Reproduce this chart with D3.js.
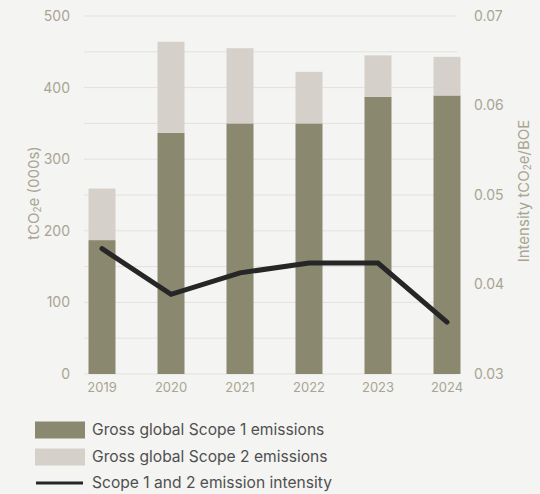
<!DOCTYPE html>
<html><head><meta charset="utf-8">
<script src="https://cdn.jsdelivr.net/npm/d3@7/dist/d3.min.js"></script>
<style>
html,body{margin:0;padding:0;background:#f4f4f2;}
svg{display:block;font-family:Inter,"Noto Sans",sans-serif;}
</style></head><body>
<svg id="c" width="540" height="494"></svg>
<script>
const years = ["2019","2020","2021","2022","2023","2024"];
const scope1 = [187, 337, 350, 350, 387, 389];
const scope2 = [72, 127, 105, 72, 58, 54];
const intensity = [0.0440, 0.0389, 0.0413, 0.0424, 0.0424, 0.0358];
const leftTicks = [0, 100, 200, 300, 400, 500];
const gridTicks = [0, 50, 100, 150, 200, 250, 300, 350, 400, 450, 500];
const rightTicks = [0.03, 0.04, 0.05, 0.06, 0.07];
const legendLabels = ["Gross global Scope 1 emissions", "Gross global Scope 2 emissions", "Scope 1 and 2 emission intensity"];

const c1 = "#8b8870", c2 = "#d5d1ca", lineC = "#262626", tickC = "#a8a593", gridC = "#e2e1dd";
const svg = d3.select("#c");
const plotTop = 16, plotBottom = 374, gx0 = 84, gx1 = 457;

const x = d3.scaleBand().domain(years).range([67.5, 481.5]).paddingInner(0.6).paddingOuter(0.3);
const y = d3.scaleLinear().domain([0, 500]).range([plotBottom, plotTop]);
const yr = d3.scaleLinear().domain([0.03, 0.07]).range([plotBottom, plotTop]);

// grid
svg.append("g").selectAll("line").data(gridTicks).join("line")
  .attr("x1", gx0).attr("x2", gx1)
  .attr("y1", d => y(d)).attr("y2", d => y(d))
  .attr("stroke", gridC).attr("stroke-width", 1);

// left axis
const la = svg.append("g").attr("transform", `translate(70,0)`)
  .call(d3.axisLeft(y).tickValues(leftTicks).tickSize(0).tickPadding(0));
la.select(".domain").remove();
la.selectAll("text").attr("fill", tickC).attr("font-size", 14).attr("font-family", "Inter,sans-serif");

// right axis
const ra = svg.append("g").attr("transform", `translate(474,0)`)
  .call(d3.axisRight(yr).tickValues(rightTicks).tickSize(0).tickPadding(0).tickFormat(d3.format(".2f")));
ra.select(".domain").remove();
ra.selectAll("text").attr("fill", tickC).attr("font-size", 14).attr("font-family", "Inter,sans-serif");

// bars
const bw = 27;
const bars = svg.append("g");
bars.selectAll("rect.s1").data(years).join("rect").attr("class", "s1")
  .attr("x", d => x(d) + x.bandwidth()/2 - bw/2).attr("width", bw)
  .attr("y", (d,i) => y(scope1[i])).attr("height", (d,i) => y(0) - y(scope1[i]))
  .attr("fill", c1);
bars.selectAll("rect.s2").data(years).join("rect").attr("class", "s2")
  .attr("x", d => x(d) + x.bandwidth()/2 - bw/2).attr("width", bw)
  .attr("y", (d,i) => y(scope1[i] + scope2[i])).attr("height", (d,i) => y(scope1[i]) - y(scope1[i] + scope2[i]))
  .attr("fill", c2);

// x axis labels
const xa = svg.append("g").attr("transform", `translate(0,${plotBottom})`)
  .call(d3.axisBottom(x).tickSize(0).tickPadding(9));
xa.select(".domain").remove();
xa.selectAll("text").attr("fill", tickC).attr("font-size", 13).attr("font-family", "Inter,sans-serif");

// line
const line = d3.line().x((d,i) => x(years[i]) + x.bandwidth()/2).y(d => yr(d));
svg.append("path").datum(intensity).attr("d", line)
  .attr("fill", "none").attr("stroke", lineC).attr("stroke-width", 5)
  .attr("stroke-linejoin", "miter").attr("stroke-linecap", "round");

// axis titles
function title(tx, ty, parts) {
  const t = svg.append("text").attr("transform", `translate(${tx},${ty}) rotate(-90)`)
    .attr("text-anchor", "middle").attr("fill", tickC).attr("font-size", 15);
  parts.forEach(p => {
    const s = t.append("tspan").text(p[0]);
    if (p[1]) s.attr("font-size", 10).attr("dy", 2);
    if (p[2]) s.attr("dy", -2);
  });
}
title(39, 193, [["tCO"], ["2", true], ["e (000s)", false, true]]);
title(529, 191, [["Intensity tCO"], ["2", true], ["e/BOE", false, true]]);

// legend
const lg = svg.append("g");
const ly = [430, 457, 483];
lg.append("rect").attr("x", 35).attr("y", ly[0]-8.5).attr("width", 50).attr("height", 17).attr("fill", c1);
lg.append("rect").attr("x", 35).attr("y", ly[1]-8.5).attr("width", 50).attr("height", 17).attr("fill", c2);
lg.append("line").attr("x1", 36).attr("x2", 83).attr("y1", ly[2]).attr("y2", ly[2])
  .attr("stroke", lineC).attr("stroke-width", 3);
lg.selectAll("text").data(legendLabels).join("text")
  .attr("x", 92).attr("y", (d,i) => ly[i]).attr("dy", "0.35em")
  .attr("fill", "#505050").attr("font-size", 15.6).text(d => d);
</script>
</body></html>
